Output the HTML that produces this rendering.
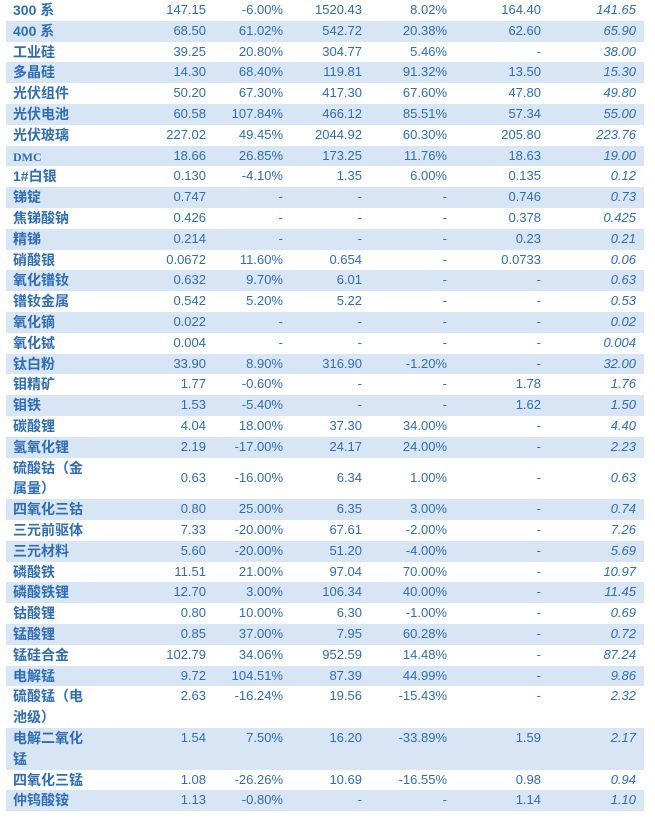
<!DOCTYPE html>
<html><head><meta charset="utf-8"><style>
body{margin:0;width:655px;height:820px;background:#fff;overflow:hidden;font-family:"Liberation Sans","Noto Sans CJK SC",sans-serif;color:#2f6db5;}
.r{position:absolute;left:6px;width:638px;display:flex;font-size:13px;}
.b{background:#d8e5f4;}
.r div{box-sizing:border-box;}
.l{width:84px;padding-left:7px;font-weight:bold;font-size:14px;line-height:20.8px;}
.n{text-align:right;line-height:20.8px;}
.c1{width:116px}.c2{width:77px}.c3{width:79px}.c4{width:85px}.c5{width:94px}.c6{width:95px;font-style:italic}
.mid .n{padding-top:10.4px}
.dmc{font-family:"Liberation Serif",serif;font-size:12px}
</style></head><body>
<div class="r" style="top:0px;height:20.8px"><div class="l">300 系</div><div class="n c1">147.15</div><div class="n c2">-6.00%</div><div class="n c3">1520.43</div><div class="n c4">8.02%</div><div class="n c5">164.40</div><div class="n c6">141.65</div></div>
<div class="r b" style="top:20.8px;height:20.8px"><div class="l">400 系</div><div class="n c1">68.50</div><div class="n c2">61.02%</div><div class="n c3">542.72</div><div class="n c4">20.38%</div><div class="n c5">62.60</div><div class="n c6">65.90</div></div>
<div class="r" style="top:41.6px;height:20.8px"><div class="l">工业硅</div><div class="n c1">39.25</div><div class="n c2">20.80%</div><div class="n c3">304.77</div><div class="n c4">5.46%</div><div class="n c5">-</div><div class="n c6">38.00</div></div>
<div class="r b" style="top:62.4px;height:20.8px"><div class="l">多晶硅</div><div class="n c1">14.30</div><div class="n c2">68.40%</div><div class="n c3">119.81</div><div class="n c4">91.32%</div><div class="n c5">13.50</div><div class="n c6">15.30</div></div>
<div class="r" style="top:83.2px;height:20.8px"><div class="l">光伏组件</div><div class="n c1">50.20</div><div class="n c2">67.30%</div><div class="n c3">417.30</div><div class="n c4">67.60%</div><div class="n c5">47.80</div><div class="n c6">49.80</div></div>
<div class="r b" style="top:104px;height:20.8px"><div class="l">光伏电池</div><div class="n c1">60.58</div><div class="n c2">107.84%</div><div class="n c3">466.12</div><div class="n c4">85.51%</div><div class="n c5">57.34</div><div class="n c6">55.00</div></div>
<div class="r" style="top:124.8px;height:20.8px"><div class="l">光伏玻璃</div><div class="n c1">227.02</div><div class="n c2">49.45%</div><div class="n c3">2044.92</div><div class="n c4">60.30%</div><div class="n c5">205.80</div><div class="n c6">223.76</div></div>
<div class="r b" style="top:145.6px;height:20.8px"><div class="l"><span class="dmc">DMC</span></div><div class="n c1">18.66</div><div class="n c2">26.85%</div><div class="n c3">173.25</div><div class="n c4">11.76%</div><div class="n c5">18.63</div><div class="n c6">19.00</div></div>
<div class="r" style="top:166.4px;height:20.8px"><div class="l">1#白银</div><div class="n c1">0.130</div><div class="n c2">-4.10%</div><div class="n c3">1.35</div><div class="n c4">6.00%</div><div class="n c5">0.135</div><div class="n c6">0.12</div></div>
<div class="r b" style="top:187.2px;height:20.8px"><div class="l">锑锭</div><div class="n c1">0.747</div><div class="n c2">-</div><div class="n c3">-</div><div class="n c4">-</div><div class="n c5">0.746</div><div class="n c6">0.73</div></div>
<div class="r" style="top:208px;height:20.8px"><div class="l">焦锑酸钠</div><div class="n c1">0.426</div><div class="n c2">-</div><div class="n c3">-</div><div class="n c4">-</div><div class="n c5">0.378</div><div class="n c6">0.425</div></div>
<div class="r b" style="top:228.8px;height:20.8px"><div class="l">精锑</div><div class="n c1">0.214</div><div class="n c2">-</div><div class="n c3">-</div><div class="n c4">-</div><div class="n c5">0.23</div><div class="n c6">0.21</div></div>
<div class="r" style="top:249.6px;height:20.8px"><div class="l">硝酸银</div><div class="n c1">0.0672</div><div class="n c2">11.60%</div><div class="n c3">0.654</div><div class="n c4">-</div><div class="n c5">0.0733</div><div class="n c6">0.06</div></div>
<div class="r b" style="top:270.4px;height:20.8px"><div class="l">氧化镨钕</div><div class="n c1">0.632</div><div class="n c2">9.70%</div><div class="n c3">6.01</div><div class="n c4">-</div><div class="n c5">-</div><div class="n c6">0.63</div></div>
<div class="r" style="top:291.2px;height:20.8px"><div class="l">镨钕金属</div><div class="n c1">0.542</div><div class="n c2">5.20%</div><div class="n c3">5.22</div><div class="n c4">-</div><div class="n c5">-</div><div class="n c6">0.53</div></div>
<div class="r b" style="top:312px;height:20.8px"><div class="l">氧化镝</div><div class="n c1">0.022</div><div class="n c2">-</div><div class="n c3">-</div><div class="n c4">-</div><div class="n c5">-</div><div class="n c6">0.02</div></div>
<div class="r" style="top:332.8px;height:20.8px"><div class="l">氧化铽</div><div class="n c1">0.004</div><div class="n c2">-</div><div class="n c3">-</div><div class="n c4">-</div><div class="n c5">-</div><div class="n c6">0.004</div></div>
<div class="r b" style="top:353.6px;height:20.8px"><div class="l">钛白粉</div><div class="n c1">33.90</div><div class="n c2">8.90%</div><div class="n c3">316.90</div><div class="n c4">-1.20%</div><div class="n c5">-</div><div class="n c6">32.00</div></div>
<div class="r" style="top:374.4px;height:20.8px"><div class="l">钼精矿</div><div class="n c1">1.77</div><div class="n c2">-0.60%</div><div class="n c3">-</div><div class="n c4">-</div><div class="n c5">1.78</div><div class="n c6">1.76</div></div>
<div class="r b" style="top:395.2px;height:20.8px"><div class="l">钼铁</div><div class="n c1">1.53</div><div class="n c2">-5.40%</div><div class="n c3">-</div><div class="n c4">-</div><div class="n c5">1.62</div><div class="n c6">1.50</div></div>
<div class="r" style="top:416px;height:20.8px"><div class="l">碳酸锂</div><div class="n c1">4.04</div><div class="n c2">18.00%</div><div class="n c3">37.30</div><div class="n c4">34.00%</div><div class="n c5">-</div><div class="n c6">4.40</div></div>
<div class="r b" style="top:436.8px;height:20.8px"><div class="l">氢氧化锂</div><div class="n c1">2.19</div><div class="n c2">-17.00%</div><div class="n c3">24.17</div><div class="n c4">24.00%</div><div class="n c5">-</div><div class="n c6">2.23</div></div>
<div class="r mid" style="top:457.6px;height:41.6px"><div class="l">硫酸钴（金<br>属量）</div><div class="n c1">0.63</div><div class="n c2">-16.00%</div><div class="n c3">6.34</div><div class="n c4">1.00%</div><div class="n c5">-</div><div class="n c6">0.63</div></div>
<div class="r b" style="top:499.2px;height:20.8px"><div class="l">四氧化三钴</div><div class="n c1">0.80</div><div class="n c2">25.00%</div><div class="n c3">6.35</div><div class="n c4">3.00%</div><div class="n c5">-</div><div class="n c6">0.74</div></div>
<div class="r" style="top:520px;height:20.8px"><div class="l">三元前驱体</div><div class="n c1">7.33</div><div class="n c2">-20.00%</div><div class="n c3">67.61</div><div class="n c4">-2.00%</div><div class="n c5">-</div><div class="n c6">7.26</div></div>
<div class="r b" style="top:540.8px;height:20.8px"><div class="l">三元材料</div><div class="n c1">5.60</div><div class="n c2">-20.00%</div><div class="n c3">51.20</div><div class="n c4">-4.00%</div><div class="n c5">-</div><div class="n c6">5.69</div></div>
<div class="r" style="top:561.6px;height:20.8px"><div class="l">磷酸铁</div><div class="n c1">11.51</div><div class="n c2">21.00%</div><div class="n c3">97.04</div><div class="n c4">70.00%</div><div class="n c5">-</div><div class="n c6">10.97</div></div>
<div class="r b" style="top:582.4px;height:20.8px"><div class="l">磷酸铁锂</div><div class="n c1">12.70</div><div class="n c2">3.00%</div><div class="n c3">106.34</div><div class="n c4">40.00%</div><div class="n c5">-</div><div class="n c6">11.45</div></div>
<div class="r" style="top:603.2px;height:20.8px"><div class="l">钴酸锂</div><div class="n c1">0.80</div><div class="n c2">10.00%</div><div class="n c3">6.30</div><div class="n c4">-1.00%</div><div class="n c5">-</div><div class="n c6">0.69</div></div>
<div class="r b" style="top:624px;height:20.8px"><div class="l">锰酸锂</div><div class="n c1">0.85</div><div class="n c2">37.00%</div><div class="n c3">7.95</div><div class="n c4">60.28%</div><div class="n c5">-</div><div class="n c6">0.72</div></div>
<div class="r" style="top:644.8px;height:20.8px"><div class="l">锰硅合金</div><div class="n c1">102.79</div><div class="n c2">34.06%</div><div class="n c3">952.59</div><div class="n c4">14.48%</div><div class="n c5">-</div><div class="n c6">87.24</div></div>
<div class="r b" style="top:665.6px;height:20.8px"><div class="l">电解锰</div><div class="n c1">9.72</div><div class="n c2">104.51%</div><div class="n c3">87.39</div><div class="n c4">44.99%</div><div class="n c5">-</div><div class="n c6">9.86</div></div>
<div class="r" style="top:686.4px;height:41.6px"><div class="l">硫酸锰（电<br>池级）</div><div class="n c1">2.63</div><div class="n c2">-16.24%</div><div class="n c3">19.56</div><div class="n c4">-15.43%</div><div class="n c5">-</div><div class="n c6">2.32</div></div>
<div class="r b" style="top:728px;height:41.6px"><div class="l">电解二氧化<br>锰</div><div class="n c1">1.54</div><div class="n c2">7.50%</div><div class="n c3">16.20</div><div class="n c4">-33.89%</div><div class="n c5">1.59</div><div class="n c6">2.17</div></div>
<div class="r" style="top:769.6px;height:20.8px"><div class="l">四氧化三锰</div><div class="n c1">1.08</div><div class="n c2">-26.26%</div><div class="n c3">10.69</div><div class="n c4">-16.55%</div><div class="n c5">0.98</div><div class="n c6">0.94</div></div>
<div class="r b" style="top:790.4px;height:20.8px"><div class="l">仲钨酸铵</div><div class="n c1">1.13</div><div class="n c2">-0.80%</div><div class="n c3">-</div><div class="n c4">-</div><div class="n c5">1.14</div><div class="n c6">1.10</div></div>
</body></html>
